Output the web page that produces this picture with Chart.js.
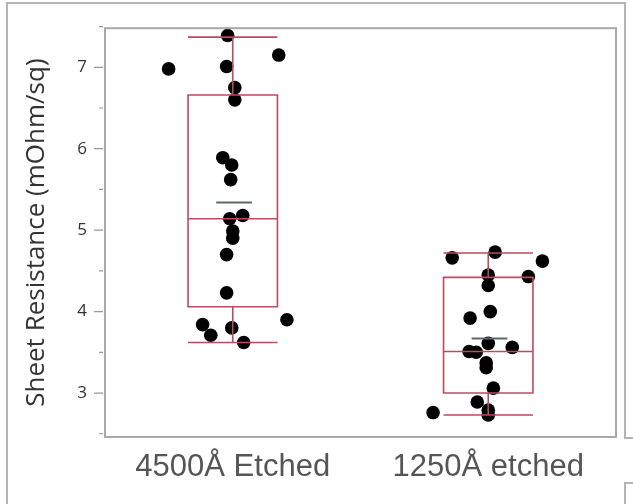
<!DOCTYPE html>
<html>
<head>
<meta charset="utf-8">
<script src="https://cdn.jsdelivr.net/npm/chart.js@4"></script>
<style>
  html, body { margin: 0; padding: 0; background: #fff; }
  #c { display: block; }
</style>
</head>
<body>
<canvas id="c" width="633" height="504"></canvas>
<script>
// groups on the x axis (1 and 2)
const categories = ['4500Å Etched', '1250Å etched'];

// raw measurements (jittered x position, value)
const etched4500X = [0.749, 0.980, 0.976, 1.180, 1.008, 1.008, 0.961, 0.996, 0.992, 0.988,
                     1.039, 1.000, 1.000, 0.976, 0.976, 0.882, 0.914, 0.996, 1.043, 1.212];
const etched4500Y = [6.98, 7.39, 7.01, 7.15, 6.75, 6.60, 5.89, 5.80, 5.62, 5.14,
                     5.18, 4.99, 4.90, 4.70, 4.23, 3.84, 3.71, 3.80, 3.62, 3.90];
const etched1250X = [1.859, 2.027, 2.212, 2.000, 2.157, 2.000, 2.008, 1.929, 2.000, 1.925,
                     1.953, 2.094, 1.992, 1.992, 2.020, 1.957, 2.000, 2.000, 1.784];
const etched1250Y = [4.66, 4.73, 4.62, 4.45, 4.43, 4.32, 4.00, 3.92, 3.61, 3.51,
                     3.50, 3.56, 3.37, 3.31, 3.06, 2.89, 2.79, 2.73, 2.76];

// box summaries per group
const whiskerLow  = [3.62, 2.73];
const quart1      = [4.06, 3.00];
const medians     = [5.14, 3.51];
const quart3      = [6.66, 4.42];
const whiskerHigh = [7.37, 4.72];
const means       = [5.34, 3.67];

const majorTicks = [3, 4, 5, 6, 7];
const minorTicks = [2.5, 3.5, 4.5, 5.5, 6.5, 7.5];

const BOX_COLOR = '#bb4b63';
const FRAME = '#a9a9a9';

function pts(xs, ys) { return xs.map((x, i) => ({ x, y: ys[i] })); }

const decor = {
  id: 'decor',
  beforeDraw(chart) {
    const ctx = chart.ctx;
    ctx.save();
    ctx.fillStyle = '#fff';
    ctx.fillRect(0, 0, chart.width, chart.height);
    // screenshot frame
    ctx.strokeStyle = '#b4b4b4';
    ctx.lineWidth = 2;
    ctx.beginPath();
    ctx.moveTo(7, 504); ctx.lineTo(7, 3); ctx.lineTo(625, 3); ctx.lineTo(625, 438); ctx.lineTo(633, 438);
    ctx.moveTo(625, 504); ctx.lineTo(625, 483); ctx.lineTo(633, 483);
    ctx.stroke();
    ctx.restore();
  },
  afterDatasetsDraw(chart) {
    const { ctx, chartArea: a, scales: { x, y } } = chart;
    ctx.save();
    // boxes
    ctx.strokeStyle = BOX_COLOR;
    ctx.lineWidth = 1.6;
    categories.forEach((c, i) => {
      const cx = i + 1;
      const l = x.getPixelForValue(cx - 0.175), r = x.getPixelForValue(cx + 0.175);
      const m = x.getPixelForValue(cx);
      const yq1 = y.getPixelForValue(quart1[i]), yq3 = y.getPixelForValue(quart3[i]);
      ctx.beginPath();
      ctx.rect(l, yq3, r - l, yq1 - yq3);
      ctx.moveTo(l, y.getPixelForValue(medians[i])); ctx.lineTo(r, y.getPixelForValue(medians[i]));
      ctx.moveTo(m, yq3); ctx.lineTo(m, y.getPixelForValue(whiskerHigh[i]));
      ctx.moveTo(m, yq1); ctx.lineTo(m, y.getPixelForValue(whiskerLow[i]));
      ctx.moveTo(l, y.getPixelForValue(whiskerHigh[i])); ctx.lineTo(r, y.getPixelForValue(whiskerHigh[i]));
      ctx.moveTo(l, y.getPixelForValue(whiskerLow[i])); ctx.lineTo(r, y.getPixelForValue(whiskerLow[i]));
      ctx.stroke();
    });
    // means
    ctx.strokeStyle = '#5f6b6b';
    ctx.lineWidth = 2;
    categories.forEach((c, i) => {
      const ym = y.getPixelForValue(means[i]);
      ctx.beginPath();
      ctx.moveTo(x.getPixelForValue(i + 1 - 0.065), ym);
      ctx.lineTo(x.getPixelForValue(i + 1 + 0.075), ym);
      ctx.stroke();
    });
    // plot frame
    ctx.strokeStyle = FRAME;
    ctx.lineWidth = 2;
    ctx.strokeRect(a.left, a.top, a.right - a.left, a.bottom - a.top);
    // y ticks
    ctx.strokeStyle = '#9a9a9a';
    ctx.lineWidth = 1.2;
    ctx.beginPath();
    majorTicks.forEach(v => { const p = y.getPixelForValue(v); ctx.moveTo(a.left - 11, p); ctx.lineTo(a.left - 2, p); });
    minorTicks.forEach(v => { const p = y.getPixelForValue(v); ctx.moveTo(a.left - 6, p); ctx.lineTo(a.left - 2, p); });
    ctx.stroke();
    ctx.restore();
  }
};

new Chart(document.getElementById('c'), {
  type: 'scatter',
  data: {
    datasets: [
      { data: pts(etched4500X, etched4500Y), backgroundColor: '#000', pointRadius: 6.8, borderWidth: 0, pointHoverRadius: 6.8 },
      { data: pts(etched1250X, etched1250Y), backgroundColor: '#000', pointRadius: 6.8, borderWidth: 0, pointHoverRadius: 6.8 }
    ]
  },
  options: {
    responsive: false,
    animation: false,
    events: [],
    layout: { padding: { left: 21, top: 27, right: 17, bottom: 0 } },
    plugins: { legend: { display: false }, tooltip: { enabled: false } },
    scales: {
      x: {
        type: 'linear', min: 0.5, max: 2.5,
        grid: { display: false, drawTicks: false }, border: { display: false },
        afterBuildTicks: s => { s.ticks = categories.map((c, i) => ({ value: i + 1 })); },
        afterFit: s => { s.height = 67; },
        ticks: {
          autoSkip: false, maxRotation: 0, padding: 12,
          color: '#555', font: { family: '"Liberation Sans", Arial, sans-serif', size: 31 },
          callback: v => categories[v - 1] || ''
        }
      },
      y: {
        min: 2.46, max: 7.48,
        grid: { display: false, drawTicks: false }, border: { display: false },
        afterBuildTicks: s => { s.ticks = majorTicks.map(v => ({ value: v })); },
        afterFit: s => { s.width = 84; },
        ticks: { padding: 18, color: '#333', font: { family: '"Open Sans", sans-serif', size: 17 } },
        title: {
          display: true, text: 'Sheet Resistance (mOhm/sq)', padding: 0,
          color: '#333', font: { family: '"Open Sans", sans-serif', size: 26 }
        }
      }
    }
  },
  plugins: [decor]
});
</script>
</body>
</html>
